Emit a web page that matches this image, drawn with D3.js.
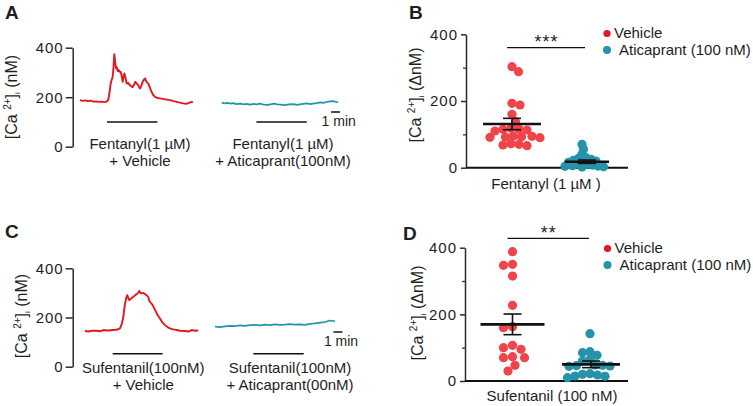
<!DOCTYPE html>
<html><head><meta charset="utf-8">
<script src="https://cdn.jsdelivr.net/npm/d3@7"></script>
<style>
body{margin:0;background:#fff}
svg{display:block}
text{font-family:"Liberation Sans",Arial,sans-serif;fill:#1e1e1e}
</style>
</head><body>
<svg id="c" width="753" height="406"></svg>
<script>
// ---------------- DATA ----------------
const traceTicks = [0, 200, 400];
const scatterTicks = [0, 200, 400];
const scatterMinorTicks = [100, 300];
const groups = ["Vehicle", "Aticaprant (100 nM)"];

// Panel A traces: [time (min), [Ca2+]i (nM)]
const fentVehicleTrace = [[0,188],[0.3,185],[0.6,187],[0.9,184],[1.2,186],[1.5,182],[1.8,183],[2.1,181],[2.4,182],[2.7,180],[3.0,183],[3.15,190],[3.3,225],[3.41,255],[3.52,270],[3.63,282],[3.72,320],[3.81,374],[3.9,345],[4.0,316],[4.1,320],[4.2,305],[4.3,310],[4.4,303],[4.52,302],[4.62,288],[4.74,262],[4.84,285],[4.93,296],[5.05,280],[5.19,255],[5.35,258],[5.56,248],[5.7,244],[5.85,241],[6.0,250],[6.15,262],[6.3,255],[6.48,248],[6.58,240],[6.67,235],[6.8,245],[6.96,262],[7.1,270],[7.22,276],[7.4,262],[7.59,255],[7.78,238],[7.96,221],[8.15,208],[8.33,201],[8.6,197],[8.89,195],[9.2,193],[9.5,191],[10.0,188],[10.4,184],[10.74,181],[11.1,178],[11.48,175],[11.8,173],[12.1,177],[12.4,181],[12.55,179]];
const fentAticTrace = [[15.75,177],[16.1,175],[16.4,177],[16.7,174],[17.0,176],[17.4,172],[17.8,174],[18.2,171],[18.5,173],[18.9,170],[19.3,173],[19.6,171],[20.0,174],[20.4,170],[20.9,169],[21.3,172],[21.6,174],[21.9,171],[22.3,170],[22.8,168],[23.2,171],[23.7,172],[24.1,169],[24.4,171],[24.8,173],[25.2,175],[25.6,172],[25.9,174],[26.3,176],[26.7,179],[27.0,177],[27.4,181],[27.8,183],[28.2,184],[28.5,180],[28.7,182]];
const fentDrugWindows = [[3.0, 8.6], [19.6, 25.2]];
const fentScaleBar = [27.9, 28.9];

// Panel C traces
const sufVehicleTrace = [[0,145],[0.4,143],[0.8,146],[1.3,146],[1.7,144],[2.03,149],[2.5,147],[3.14,149],[3.5,150],[3.89,156],[4.1,175],[4.26,203],[4.4,245],[4.56,278],[4.7,291],[4.8,280],[4.92,271],[5.1,276],[5.37,284],[5.55,290],[5.74,295],[5.9,300],[6.03,308],[6.15,300],[6.3,298],[6.5,300],[6.67,295],[6.85,290],[7.03,284],[7.12,270],[7.22,264],[7.35,258],[7.52,250],[7.7,236],[7.89,223],[8.1,208],[8.33,196],[8.6,180],[8.89,169],[9.2,160],[9.44,156],[9.8,152],[10.19,149],[10.6,146],[11.11,145],[11.5,143],[11.86,149],[12.2,146],[12.59,147]];
const sufAticTrace = [[14.44,163],[15.0,161],[15.56,164],[16.11,166],[16.67,165],[17.22,168],[17.78,166],[18.33,169],[18.89,170],[19.44,168],[20.0,171],[20.56,169],[21.11,172],[21.67,170],[22.22,171],[22.78,173],[23.33,171],[23.89,172],[24.44,170],[25.0,174],[25.56,176],[26.11,179],[26.67,182],[27.22,188],[27.78,185]];
const sufDrugWindows = [[3.08, 8.63], [18.7, 24.3]];
const sufScaleBar = [27.6, 28.6];

// Panel B: Δ[Ca2+]i (nM), Fentanyl (1 µM)
const fentVehiclePts = [303, 288, 193, 188, 160, 138, 116, 113, 118, 110, 115, 93, 91, 92, 90, 95, 94, 68, 72, 70, 66];
const fentAticPts = [70, 55, 40, 30, 28, 25, 22, 20, 18, 16, 12, 10, 8, 6, 5, 4, 3, 2];
const fentMean = [131, 18];
const fentSem = [17, 5];

// Panel D: Δ[Ca2+]i (nM), Sufentanil (100 nM)
const sufVehiclePts = [388, 350, 347, 315, 227, 163, 160, 107, 100, 95, 73, 70, 70, 47, 30];
const sufAticPts = [142, 88, 85, 77, 65, 60, 48, 47, 46, 45, 44, 22, 20, 18, 15, 14, 10];
const sufMean = [170, 50];
const sufSem = [31, 10];

// ---------------- DRAWING ----------------
const RED_TR = "#e3171f", TEAL_TR = "#1e98a9";
const RED_DOT = "#ef444a", TEAL_DOT = "#2593a9";
const AX = "#2a2a2a";
const svg = d3.select("#c");

function panelLetter(t, x, y) {
  svg.append("text").attr("x", x).attr("y", y).text(t)
    .style("font-size", "19px").style("font-weight", "bold").attr("fill", "#111");
}

function yLabel(x, y, delta) {
  const t = svg.append("text").attr("transform", `translate(${x},${y}) rotate(-90)`)
    .attr("text-anchor", "middle").style("font-size", "16px");
  t.append("tspan").text("[Ca ");
  t.append("tspan").text("2+").style("font-size", "10px").attr("dy", -6);
  t.append("tspan").text("]").attr("dy", 6);
  t.append("tspan").text("i").style("font-size", "8px").attr("dy", 3);
  t.append("tspan").text(delta ? " (ΔnM)" : " (nM)").attr("dy", -3);
}

function styleAxis(ax) {
  ax.select(".domain").attr("stroke", AX).attr("stroke-width", 1.5);
  ax.selectAll(".tick line").attr("stroke", AX).attr("stroke-width", 1.5);
  ax.selectAll(".tick text").style("font-size", "15px").style("letter-spacing", "1px")
    .style("font-family", '"Liberation Sans", Arial, sans-serif').attr("fill", "#1e1e1e");
}

function tracePanel(cfg) {
  const x = d3.scaleLinear().domain([0, 1]).range([cfg.x0, cfg.x0 + 9]);
  const y = d3.scaleLinear().domain([0, 400]).range([cfg.yBottom, cfg.yTop]);
  const g = svg.append("g");
  const ax = g.append("g").attr("transform", `translate(${cfg.axisX},0)`)
    .call(d3.axisLeft(y).tickValues(traceTicks).tickSize(7).tickPadding(2).tickSizeOuter(0));
  styleAxis(ax);
  const line = d3.line().x(d => x(d[0])).y(d => y(d[1]));
  g.append("path").datum(cfg.vehicle).attr("d", line).attr("fill", "none")
    .attr("stroke", RED_TR).attr("stroke-width", 1.9).attr("stroke-linejoin", "round");
  g.append("path").datum(cfg.antag).attr("d", line).attr("fill", "none")
    .attr("stroke", TEAL_TR).attr("stroke-width", 1.6).attr("stroke-linejoin", "round");
  g.selectAll("line.drug").data(cfg.windows).join("line").attr("class", "drug")
    .attr("x1", d => x(d[0])).attr("x2", d => x(d[1]))
    .attr("y1", cfg.barY).attr("y2", cfg.barY).attr("stroke", "#111").attr("stroke-width", 1.5);
  g.append("line").attr("x1", x(cfg.scaleBar[0])).attr("x2", x(cfg.scaleBar[1]))
    .attr("y1", cfg.sbY).attr("y2", cfg.sbY).attr("stroke", "#111").attr("stroke-width", 1.5);
  g.append("text").attr("x", x(cfg.scaleBar[0]) - 9.5).attr("y", cfg.sbY + 14)
    .text("1 min").style("font-size", "14px");
  cfg.labels.forEach((lab, i) => {
    const cx = cfg.labelX[i];
    lab.forEach((s, j) => {
      g.append("text").attr("x", cx).attr("y", cfg.labelY + j * 17.5).attr("text-anchor", "middle")
        .text(s).style("font-size", "15px");
    });
  });
}

function swarm(values, y, cx, diam) {
  const pts = values.map(v => ({ v, y: y(v) })).sort((a, b) => b.v - a.v);
  const placed = [];
  pts.forEach((p, idx) => {
    const sign = idx % 2 ? 1 : -1;
    for (let k = 0; k < 400; k++) {
      const off = (k % 2 ? sign : -sign) * Math.ceil(k / 2) * 0.5;
      const xx = cx + off;
      if (placed.every(q => (q.x - xx) ** 2 + (q.y - p.y) ** 2 >= diam * diam)) {
        p.x = xx; placed.push(p); break;
      }
    }
  });
  return placed;
}

function scatterPanel(cfg) {
  const y = d3.scaleLinear().domain([0, 400]).range([cfg.yBottom, cfg.yTop]);
  const x = d3.scalePoint().domain(groups).range([cfg.cx0, cfg.cx1]);
  const g = svg.append("g");
  const ax = g.append("g").attr("transform", `translate(${cfg.axisX},0)`)
    .call(d3.axisLeft(y).tickValues(scatterTicks).tickSize(5).tickPadding(3).tickSizeOuter(0));
  styleAxis(ax);
  const axm = g.append("g").attr("transform", `translate(${cfg.axisX},0)`)
    .call(d3.axisLeft(y).tickValues(scatterMinorTicks).tickSize(3).tickFormat(""));
  axm.select(".domain").remove();
  axm.selectAll(".tick line").attr("stroke", AX).attr("stroke-width", 1.2);
  g.append("line").attr("x1", cfg.axisX).attr("x2", cfg.xEnd).attr("y1", y(0)).attr("y2", y(0))
    .attr("stroke", "#111").attr("stroke-width", 2);
  const sets = [[cfg.vehicle, RED_DOT], [cfg.antag, TEAL_DOT]];
  sets.forEach(([vals, col], i) => {
    const pts = swarm(vals, y, x(groups[i]) + cfg.swarmShift[i], cfg.diam[i]);
    g.selectAll(null).data(pts).join("circle")
      .attr("cx", d => d.x).attr("cy", d => d.y).attr("r", 4.6).attr("fill", col);
  });
  groups.forEach((gr, i) => {
    const cx = x(gr), m = cfg.mean[i], s = cfg.sem[i];
    g.append("line").attr("x1", cx).attr("x2", cx).attr("y1", y(m - s)).attr("y2", y(m + s))
      .attr("stroke", "#111").attr("stroke-width", 1.6);
    [m - s, m + s].forEach(v => g.append("line").attr("x1", cx - 9).attr("x2", cx + 9)
      .attr("y1", y(v)).attr("y2", y(v)).attr("stroke", "#111").attr("stroke-width", 1.6));
    g.append("line").attr("x1", cx - cfg.meanHalf[i]).attr("x2", cx + cfg.meanHalf[i])
      .attr("y1", y(m)).attr("y2", y(m)).attr("stroke", "#111").attr("stroke-width", 2.6);
  });
  g.append("line").attr("x1", x(groups[0]) - 5).attr("x2", x(groups[1]) - 2)
    .attr("y1", cfg.sigY).attr("y2", cfg.sigY).attr("stroke", "#111").attr("stroke-width", 1.3);
  g.append("text").attr("x", (x(groups[0]) + x(groups[1])) / 2 - 3).attr("y", cfg.sigY + 0.5)
    .attr("text-anchor", "middle").text(cfg.sig).style("font-size", "18px").style("letter-spacing", "1px");
  g.append("text").attr("x", cfg.xLabelX).attr("y", cfg.xLabelY).attr("text-anchor", "middle")
    .text(cfg.xLabel).style("font-size", "15px");
  const leg = g.append("g").attr("transform", `translate(${cfg.legX},${cfg.legY})`);
  leg.append("circle").attr("cx", 0).attr("cy", 0).attr("r", 3.6).attr("fill", RED_TR);
  leg.append("text").attr("x", 7).attr("y", 4.5).text(groups[0]).style("font-size", "15px");
  leg.append("circle").attr("cx", 0).attr("cy", 16.5).attr("r", 4).attr("fill", TEAL_DOT);
  leg.append("text").attr("x", 12).attr("y", 21).text(groups[1]).style("font-size", "15px");
}

// Panel A
panelLetter("A", 5, 18.5);
yLabel(17, 97, false);
tracePanel({
  x0: 80, axisX: 72.7, yBottom: 146.7, yTop: 47.7,
  vehicle: fentVehicleTrace, antag: fentAticTrace, windows: fentDrugWindows,
  barY: 122, scaleBar: fentScaleBar, sbY: 112,
  labels: [["Fentanyl(1 µM)", "+ Vehicle"], ["Fentanyl(1 µM)", "+ Aticaprant(100nM)"]],
  labelX: [140, 283], labelY: 148.5
});

// Panel C
panelLetter("C", 5, 238);
yLabel(27, 316, false);
tracePanel({
  x0: 85, axisX: 72.7, yBottom: 366.7, yTop: 268.3,
  vehicle: sufVehicleTrace, antag: sufAticTrace, windows: sufDrugWindows,
  barY: 353.7, scaleBar: sufScaleBar, sbY: 332,
  labels: [["Sufentanil(100nM)", "+ Vehicle"], ["Sufentanil(100nM)", "+ Aticaprant(00nM)"]],
  labelX: [143.3, 290], labelY: 372.7
});

// Panel B
panelLetter("B", 409, 18.5);
yLabel(421, 95, true);
scatterPanel({
  axisX: 466, xEnd: 628, yBottom: 167.7, yTop: 34.3, cx0: 512, cx1: 587,
  vehicle: fentVehiclePts, antag: fentAticPts, mean: fentMean, sem: fentSem,
  diam: [8, 5.2], swarmShift: [0, -5],
  meanHalf: [29, 22], sigY: 47.7, sig: "***",
  xLabel: "Fentanyl (1 µM )", xLabelX: 546, xLabelY: 188.5,
  legX: 607, legY: 33.5
});

// Panel D
panelLetter("D", 403, 240);
yLabel(423, 313, true);
scatterPanel({
  axisX: 465, xEnd: 628, yBottom: 381, yTop: 247.7, cx0: 512.5, cx1: 591,
  vehicle: sufVehiclePts, antag: sufAticPts, mean: sufMean, sem: sufSem,
  diam: [9, 7.5], swarmShift: [0, -1],
  meanHalf: [32, 29], sigY: 238.3, sig: "**",
  xLabel: "Sufentanil (100 nM)", xLabelX: 552, xLabelY: 401,
  legX: 607.5, legY: 248.5
});
</script>
</body></html>
